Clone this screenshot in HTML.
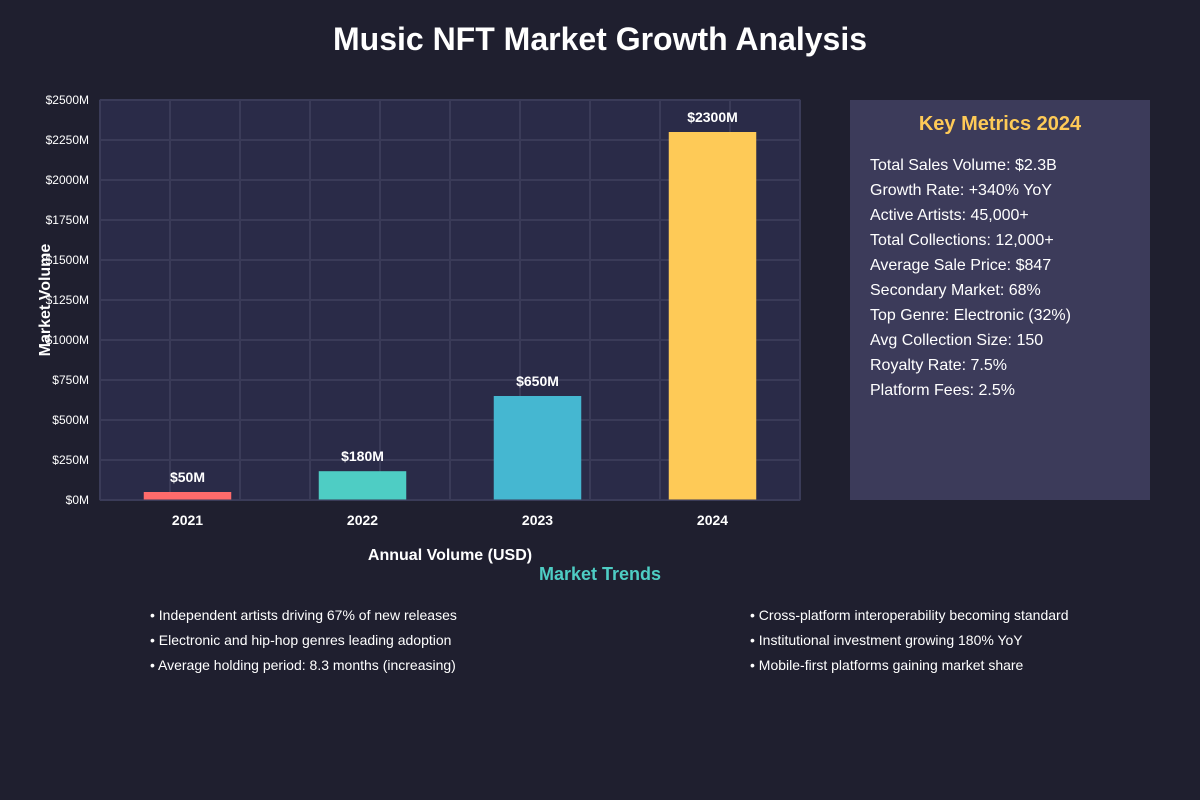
<!DOCTYPE html>
<html><head><meta charset="utf-8"><style>
body{margin:0;width:1200px;height:800px;background:#1f1f2f;font-family:"Liberation Sans",sans-serif;overflow:hidden;position:relative}
svg{position:absolute;left:0;top:0}
</style></head><body>
<svg width="1200" height="800">
<text x="600" y="50" text-anchor="middle" font-size="32" font-weight="bold" fill="#fff">Music NFT Market Growth Analysis</text>
<rect x="100" y="100" width="700" height="400" fill="#2a2b48"/>
<g id="grid"></g><g id="bars"></g><g id="yt"></g><g id="xt"></g>
<rect x="100" y="100" width="700" height="400" fill="none" stroke="#3a3b58"/>
<text x="50" y="300" transform="rotate(-90 50 300)" text-anchor="middle" font-size="16" font-weight="bold" fill="#fff">Market Volume</text>
<text x="450" y="560" text-anchor="middle" font-size="16" font-weight="bold" fill="#fff">Annual Volume (USD)</text>
<rect x="850" y="100" width="300" height="400" fill="#3c3b5a"/>
<text x="1000" y="130" text-anchor="middle" font-size="20" font-weight="bold" fill="#feca57">Key Metrics 2024</text>
<g font-size="16" fill="#fff">
<text x="870" y="170">Total Sales Volume: $2.3B</text>
<text x="870" y="195">Growth Rate: +340% YoY</text>
<text x="870" y="220">Active Artists: 45,000+</text>
<text x="870" y="245">Total Collections: 12,000+</text>
<text x="870" y="270">Average Sale Price: $847</text>
<text x="870" y="295">Secondary Market: 68%</text>
<text x="870" y="320">Top Genre: Electronic (32%)</text>
<text x="870" y="345">Avg Collection Size: 150</text>
<text x="870" y="370">Royalty Rate: 7.5%</text>
<text x="870" y="395">Platform Fees: 2.5%</text>
</g>
<text x="600" y="580" text-anchor="middle" font-size="18" font-weight="bold" fill="#4ecdc4">Market Trends</text>
<g font-size="14" fill="#fff">
<text x="150" y="620">• Independent artists driving 67% of new releases</text>
<text x="150" y="645">• Electronic and hip-hop genres leading adoption</text>
<text x="150" y="670">• Average holding period: 8.3 months (increasing)</text>
<text x="750" y="620">• Cross-platform interoperability becoming standard</text>
<text x="750" y="645">• Institutional investment growing 180% YoY</text>
<text x="750" y="670">• Mobile-first platforms gaining market share</text>
</g>
</svg>
<script>
const categories=["2021","2022","2023","2024"];
const values=[50,180,650,2300];
const colors=["#ff6b6b","#4ecdc4","#45b7d1","#feca57"];
const yTicks=[0,250,500,750,1000,1250,1500,1750,2000,2250,2500];
const NS="http://www.w3.org/2000/svg";
const X0=100,X1=800,Y0=500,Y1=100,YMAX=2500;
const y=v=>Y0-(v/YMAX)*(Y0-Y1);
const band=(X1-X0)/categories.length;
const xc=i=>X0+band*(i+0.5);
function mk(t,a,p){const e=document.createElementNS(NS,t);for(const k in a)e.setAttribute(k,a[k]);document.getElementById(p).appendChild(e);return e;}
for(let i=0;i<=10;i++){const gx=X0+i*(X1-X0)/10;const l=mk('line',{x1:gx,x2:gx,y1:Y1,y2:Y0,stroke:'#3a3b58','stroke-width':2},'grid');

}
yTicks.forEach(v=>{const l=mk('line',{x1:X0,x2:X1,y1:y(v),y2:y(v),stroke:'#3a3b58','stroke-width':2},'grid');


const t=mk('text',{x:89,y:y(v)+4,'text-anchor':'end','font-size':12,fill:'#fff'},'yt');t.textContent='$'+v+'M';

});
categories.forEach((c,i)=>{const w=band*0.5;
const r=mk('rect',{x:xc(i)-w/2,y:y(values[i]),width:w,height:Y0-y(values[i]),fill:colors[i]},'bars');


const t=mk('text',{x:xc(i),y:y(values[i])-10,'text-anchor':'middle','font-size':14,'font-weight':'bold',fill:'#fff'},'bars');t.textContent='$'+values[i]+'M';


const x=mk('text',{x:xc(i),y:525,'text-anchor':'middle','font-size':14,'font-weight':'bold',fill:'#fff'},'xt');x.textContent=c;

});
</script>
</body></html>
